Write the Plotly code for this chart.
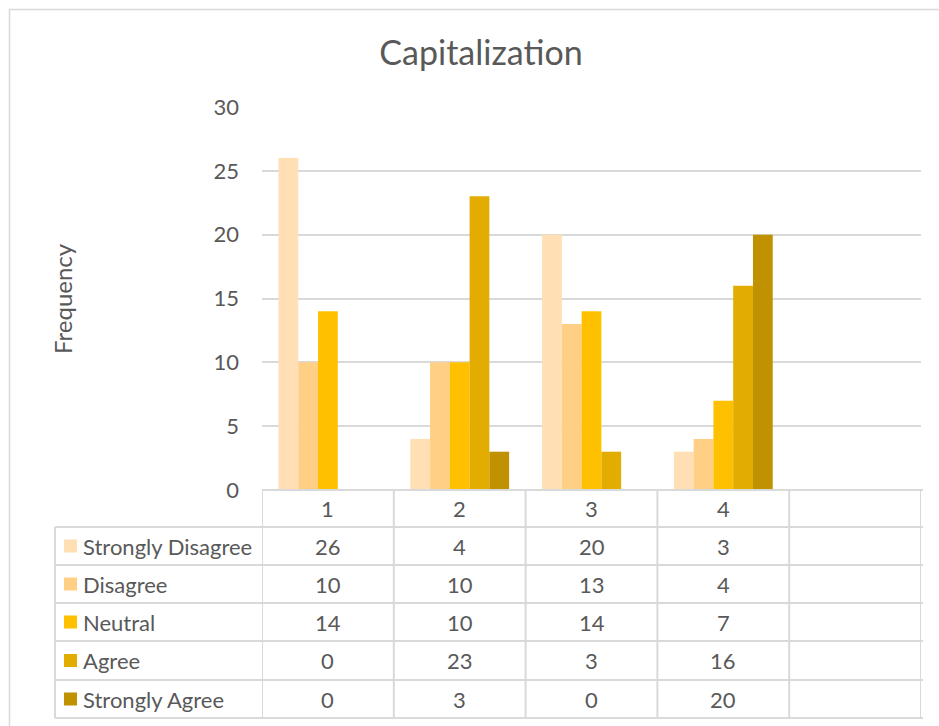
import plotly.graph_objects as go

# data
categories = [1, 2, 3, 4, 5]
cat_labels = ["1", "2", "3", "4", ""]
strongly_disagree = [26, 4, 20, 3, None]
disagree = [10, 10, 13, 4, None]
neutral = [14, 10, 14, 7, None]
agree = [0, 23, 3, 16, None]
strongly_agree = [0, 3, 0, 20, None]

series_names = ["Strongly Disagree", "Disagree", "Neutral", "Agree", "Strongly Agree"]
series_vals = [strongly_disagree, disagree, neutral, agree, strongly_agree]
colors = ["#FFDFB3", "#FFCF85", "#FFC000", "#E2AC00", "#C09100"]

W, H = 939, 726
L, R, T, B = 262, 921, 107, 490   # plot area in pixels
FONT = "Lato"
TXT = "#595959"
GRID = "#D9D9D9"
FS = 22


def pxx(x):
    return (x - L) / (R - L)


def pxy(y):
    return (B - y) / (B - T)


fig = go.Figure()
for name, vals, col in zip(series_names, series_vals, colors):
    fig.add_trace(go.Bar(name=name, x=categories, y=vals, marker_color=col,
                         marker_line_width=0, showlegend=False))

fig.update_layout(
    width=W, height=H,
    margin=dict(l=L, r=W - R, t=T, b=H - B, pad=0),
    paper_bgcolor="white", plot_bgcolor="white",
    barmode="group", bargap=0.25, bargroupgap=0,
    font=dict(family=FONT, color=TXT, size=FS),
    title=dict(text="Capitalization", x=481 / W, xanchor="center", y=1 - 53 / H, yanchor="middle",
               font=dict(size=34, color=TXT, family=FONT)),
)
fig.update_xaxes(range=[0.5, 5.5], showticklabels=False, showgrid=False, zeroline=False,
                 fixedrange=True)
fig.update_yaxes(range=[0, 30], dtick=5, showgrid=True, gridcolor=GRID, gridwidth=1.5,
                 zeroline=False, ticklabelstandoff=22, tickfont=dict(size=FS, color=TXT))

shapes = []
line = dict(color=GRID, width=2)
# outer chart border (right and bottom edges fall outside the picture)
shapes.append(dict(type="rect", xref="paper", yref="paper", x0=pxx(9.5), x1=pxx(960),
                   y0=pxy(9.5), y1=pxy(760), line=dict(color="#D9D9D9", width=1.5)))

# table geometry (pixels)
row_lines = [490, 527, 565, 603, 641, 680, 718]
tbl_left = 55
shapes.append(dict(type="line", xref="paper", yref="paper", x0=0, x1=pxx(923),
                   y0=pxy(row_lines[0]), y1=pxy(row_lines[0]), line=line))
for yy in row_lines[1:]:
    shapes.append(dict(type="line", xref="paper", yref="paper", x0=pxx(tbl_left), x1=pxx(923),
                       y0=pxy(yy), y1=pxy(yy), line=line))
for i in range(len(categories) + 1):
    xb = categories[0] - 0.5 + i
    shapes.append(dict(type="line", xref="x", yref="paper", x0=xb, x1=xb,
                       y0=pxy(row_lines[0]), y1=pxy(row_lines[-1]), line=line))
shapes.append(dict(type="line", xref="paper", yref="paper", x0=pxx(tbl_left), x1=pxx(tbl_left),
                   y0=pxy(row_lines[1]), y1=pxy(row_lines[-1]), line=line))

annotations = []
hc = (row_lines[0] + row_lines[1]) / 2
for c, lab in zip(categories, cat_labels):
    annotations.append(dict(x=c, y=pxy(hc), xref="x", yref="paper", text=lab, showarrow=False,
                            font=dict(size=FS, color=TXT), xanchor="center", yanchor="middle"))
for r, (name, vals, col) in enumerate(zip(series_names, series_vals, colors)):
    yc = (row_lines[r + 1] + row_lines[r + 2]) / 2
    shapes.append(dict(type="rect", xref="paper", yref="paper", x0=pxx(64), x1=pxx(77),
                       y0=pxy(yc - 6.5), y1=pxy(yc + 6.5), line=dict(width=0), fillcolor=col))
    annotations.append(dict(x=pxx(81), y=pxy(yc), xref="paper", yref="paper", text=name,
                            showarrow=False, xanchor="left", yanchor="middle",
                            font=dict(size=FS, color=TXT)))
    for c, v in zip(categories, vals):
        if v is None:
            continue
        annotations.append(dict(x=c, y=pxy(yc), xref="x", yref="paper", text=str(v),
                                showarrow=False, xanchor="center", yanchor="middle",
                                font=dict(size=FS, color=TXT)))

annotations.append(dict(x=pxx(62), y=pxy(299), xref="paper", yref="paper", text="Frequency",
                        showarrow=False, textangle=-90, xanchor="center", yanchor="middle",
                        font=dict(size=24, color=TXT)))

fig.update_layout(shapes=shapes, annotations=annotations)
fig.write_html("out.html", config={"displayModeBar": False},
               post_script="document.body.style.margin='0px';")
